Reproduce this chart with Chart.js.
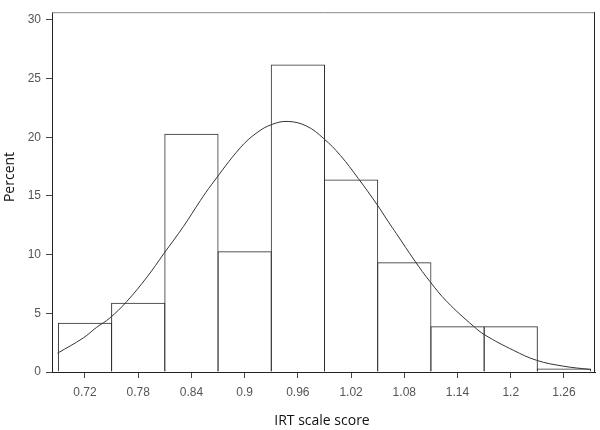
<!DOCTYPE html>
<html>
<head>
<meta charset="utf-8">
<script src="https://cdn.jsdelivr.net/npm/chart.js@4/dist/chart.umd.min.js"></script>
<style>
  html, body { margin: 0; padding: 0; background: #fff; }
  #wrap { width: 600px; height: 430px; }
</style>
</head>
<body>
<div id="wrap"><canvas id="c" width="600" height="430"></canvas></div>
<script>
// ---- data ----
const binCenters = [0.72, 0.78, 0.84, 0.90, 0.96, 1.02, 1.08, 1.14, 1.20, 1.26];
const binPercent = [4.2, 5.9, 20.3, 10.3, 26.2, 16.4, 9.35, 3.9, 3.9, 0.3];

const curveX = [0.689, 0.718, 0.733, 0.748, 0.767, 0.790, 0.809, 0.831, 0.850, 0.863,
                0.895, 0.914, 0.931, 0.949, 0.970, 0.989, 1.008, 1.028, 1.049, 1.062,
                1.071, 1.092, 1.109, 1.128, 1.158, 1.171, 1.203, 1.229, 1.259, 1.289];
const curveY = [1.6, 2.9, 3.8, 4.6, 6.0, 8.1, 10.1, 12.4, 14.6, 16.0,
                19.1, 20.4, 21.1, 21.35, 20.95, 19.9, 18.45, 16.5, 14.3, 12.8,
                11.8, 9.45, 7.7, 6.0, 3.9, 3.15, 1.85, 1.0, 0.5, 0.22];

const xTickLabels = ['0.72', '0.78', '0.84', '0.9', '0.96', '1.02', '1.08', '1.14', '1.2', '1.26'];
const yTickValues = [0, 5, 10, 15, 20, 25, 30];
const xTitle = 'IRT scale score';
const yTitle = 'Percent';

const barData = binCenters.map((x, i) => ({ x: x, y: binPercent[i] }));
const curveData = curveX.map((x, i) => ({ x: x, y: curveY[i] }));
const xTickValues = xTickLabels.map(s => parseFloat(s));

const framePlugin = {
  id: 'frame',
  afterDraw(chart) {
    const { ctx, chartArea: a } = chart;
    ctx.save();
    ctx.lineWidth = 1;
    ctx.strokeStyle = '#8a8a8a';
    ctx.beginPath();
    ctx.moveTo(a.left, a.top + 0.5);
    ctx.lineTo(a.right, a.top + 0.5);
    ctx.stroke();
    ctx.strokeStyle = '#222';
    ctx.beginPath();
    ctx.moveTo(a.right - 0.5, a.top);
    ctx.lineTo(a.right - 0.5, a.bottom);
    ctx.stroke();
    // axis titles
    ctx.fillStyle = '#111';
    ctx.font = '14px "Open Sans", "Liberation Sans", sans-serif';
    ctx.textAlign = 'center';
    ctx.textBaseline = 'middle';
    ctx.fillText(xTitle, 322, 421);
    ctx.translate(10, 177);
    ctx.rotate(-Math.PI / 2);
    ctx.fillText(yTitle, 0, 0);
    ctx.restore();
  }
};

new Chart(document.getElementById('c'), {
  type: 'bar',
  data: {
    datasets: [
      {
        type: 'line',
        data: curveData,
        borderColor: '#333',
        borderWidth: 1,
        pointRadius: 0,
        tension: 0.4,
        fill: false,
        order: 0
      },
      {
        type: 'bar',
        data: barData,
        backgroundColor: 'rgba(255,255,255,0)',
        borderColor: '#2e2e2e',
        borderWidth: 1,
        barPercentage: 1.019,
        categoryPercentage: 1,
        order: 1
      }
    ]
  },
  options: {
    responsive: false,
    animation: false,
    events: [],
    layout: { padding: { top: 3, right: 5, left: 0, bottom: 0 } },
    plugins: { legend: { display: false }, tooltip: { enabled: false }, title: { display: false } },
    scales: {
      x: {
        type: 'linear',
        min: 0.6828,
        max: 1.295,
        offset: false,
        afterBuildTicks: s => { s.ticks = xTickValues.map(v => ({ value: v })); },
        afterFit: s => { s.height = 58; },
        ticks: {
          autoSkip: false,
          maxRotation: 0,
          padding: 7,
          color: '#555',
          font: { family: '"Liberation Sans", Arial, sans-serif', size: 12 },
          callback: (v) => { const i = xTickValues.indexOf(v); return i >= 0 ? xTickLabels[i] : ''; }
        },
        grid: { display: true, drawOnChartArea: false, drawTicks: true, tickLength: 6, color: '#444', offset: false },
        border: { display: true, color: '#222', width: 1 },
        title: { display: false }
      },
      y: {
        type: 'linear',
        min: 0,
        max: 30.66,
        afterBuildTicks: s => { s.ticks = yTickValues.map(v => ({ value: v })); },
        afterFit: s => { s.width = 52; },
        ticks: {
          padding: 5,
          color: '#555',
          font: { family: '"Liberation Sans", Arial, sans-serif', size: 12 }
        },
        grid: { display: true, drawOnChartArea: false, drawTicks: true, tickLength: 6, color: '#444' },
        border: { display: true, color: '#222', width: 1 },
        title: { display: false }
      }
    }
  },
  plugins: [framePlugin]
});
</script>
</body>
</html>
